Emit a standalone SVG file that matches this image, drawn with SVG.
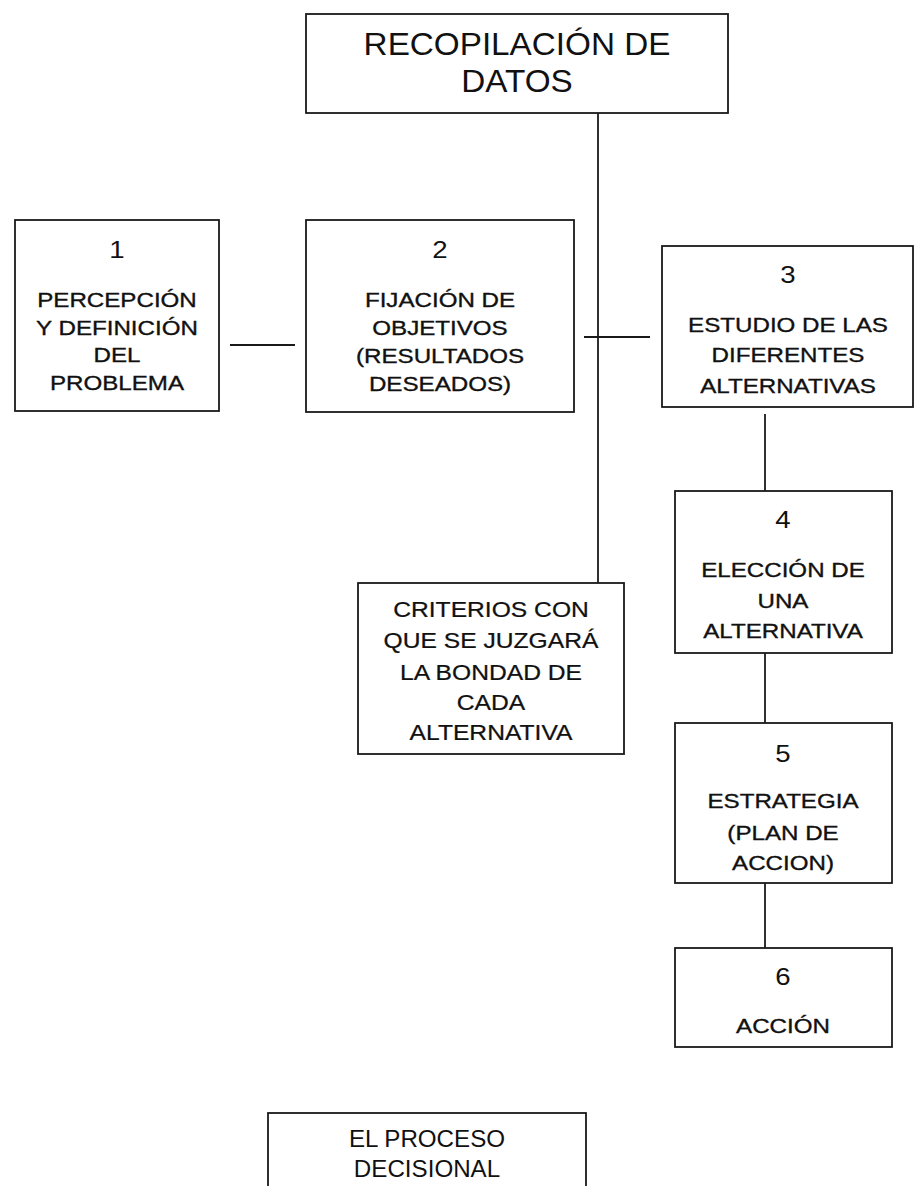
<svg xmlns="http://www.w3.org/2000/svg" width="915" height="1186" viewBox="0 0 915 1186">
<style>
  .box { fill: #fff; stroke: #1a1a1a; stroke-width: 1.8; }
  .ln { stroke: #1a1a1a; stroke-width: 1.8; fill: none; }
  text { font-family: "Liberation Sans", Arial, sans-serif; fill: #111; text-anchor: middle; }
  .t { font-size: 21px; stroke: #111; stroke-width: 0.35; }
  .n { font-size: 24px; }
  .title { font-size: 32px; }
  .c { font-size: 22px; stroke: #111; stroke-width: 0.25; }
  .b { font-size: 23px; }
</style>
<rect width="915" height="1186" fill="#fff"/>
<g id="connectors">
  <line class="ln" x1="598" y1="113" x2="598" y2="583"/>
  <line class="ln" x1="230" y1="345" x2="295" y2="345"/>
  <line class="ln" x1="584" y1="337" x2="650" y2="337"/>
  <line class="ln" x1="765" y1="414" x2="765" y2="491"/>
  <line class="ln" x1="765" y1="647" x2="765" y2="723"/>
  <line class="ln" x1="765" y1="878" x2="765" y2="955"/>
</g>
<g id="recopilacion">
  <rect class="box" x="306" y="14" width="422" height="99"/>
  <g transform="translate(517 0) scale(1.04 1)">
    <text class="title" x="0" y="55">RECOPILACIÓN DE</text>
    <text class="title" x="0" y="92">DATOS</text>
  </g>
</g>
<g id="n1">
  <rect class="box" x="15" y="220" width="204" height="191"/>
  <g transform="translate(117 0) scale(1.15 1)">
    <text class="n" x="0" y="258">1</text>
    <text class="t" x="0" y="307">PERCEPCIÓN</text>
    <text class="t" x="0" y="335">Y DEFINICIÓN</text>
    <text class="t" x="0" y="362">DEL</text>
    <text class="t" x="0" y="390">PROBLEMA</text>
  </g>
</g>
<g id="n2">
  <rect class="box" x="306" y="220" width="268" height="192"/>
  <g transform="translate(440 0) scale(1.15 1)">
    <text class="n" x="0" y="258">2</text>
    <text class="t" x="0" y="307">FIJACIÓN DE</text>
    <text class="t" x="0" y="335">OBJETIVOS</text>
    <text class="t" x="0" y="363">(RESULTADOS</text>
    <text class="t" x="0" y="391">DESEADOS)</text>
  </g>
</g>
<g id="n3">
  <rect class="box" x="662" y="246" width="251" height="161"/>
  <g transform="translate(788 0) scale(1.15 1)">
    <text class="n" x="0" y="283">3</text>
    <text class="t" x="0" y="332">ESTUDIO DE LAS</text>
    <text class="t" x="0" y="362">DIFERENTES</text>
    <text class="t" x="0" y="393">ALTERNATIVAS</text>
  </g>
</g>
<g id="criterios">
  <rect class="box" x="358" y="583" width="266" height="171"/>
  <g transform="translate(491 0) scale(1.12 1)">
    <text class="c" x="0" y="617">CRITERIOS CON</text>
    <text class="c" x="0" y="648">QUE SE JUZGARÁ</text>
    <text class="c" x="0" y="680">LA BONDAD DE</text>
    <text class="c" x="0" y="710">CADA</text>
    <text class="c" x="0" y="740">ALTERNATIVA</text>
  </g>
</g>
<g id="n4">
  <rect class="box" x="675" y="491" width="217" height="162"/>
  <g transform="translate(783 0) scale(1.15 1)">
    <text class="n" x="0" y="528">4</text>
    <text class="t" x="0" y="577">ELECCIÓN DE</text>
    <text class="t" x="0" y="608">UNA</text>
    <text class="t" x="0" y="638">ALTERNATIVA</text>
  </g>
</g>
<g id="n5">
  <rect class="box" x="675" y="723" width="217" height="160"/>
  <g transform="translate(783 0) scale(1.15 1)">
    <text class="n" x="0" y="762">5</text>
    <text class="t" x="0" y="808">ESTRATEGIA</text>
    <text class="t" x="0" y="840">(PLAN DE</text>
    <text class="t" x="0" y="870">ACCION)</text>
  </g>
</g>
<g id="n6">
  <rect class="box" x="675" y="948" width="217" height="99"/>
  <g transform="translate(783 0) scale(1.15 1)">
    <text class="n" x="0" y="985">6</text>
    <text class="t" x="0" y="1033">ACCIÓN</text>
  </g>
</g>
<g id="proceso">
  <rect class="box" x="268" y="1113" width="318" height="90"/>
  <g transform="translate(427 0) scale(1.05 1)">
    <text class="b" x="0" y="1147">EL PROCESO</text>
    <text class="b" x="0" y="1177">DECISIONAL</text>
  </g>
</g>
</svg>
